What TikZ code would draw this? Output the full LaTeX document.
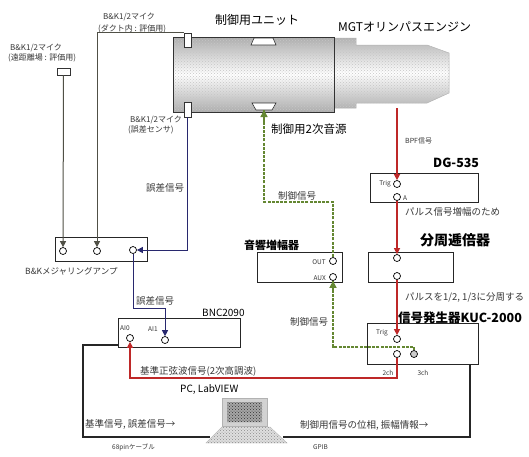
\documentclass[tikz,border=0pt]{standalone}
\usepackage{fontspec}
\setmainfont{Noto Sans CJK JP}
\usetikzlibrary{arrows.meta,patterns}
\definecolor{sigred}{RGB}{190,40,40}
\definecolor{ctlgreen}{RGB}{100,135,50}
\definecolor{errnavy}{RGB}{40,40,110}
\definecolor{micgray}{RGB}{80,80,70}
\definecolor{txtgray}{RGB}{55,55,55}
\begin{document}
\begin{tikzpicture}[x=1pt,y=-1pt,
  port/.style={circle,draw=black,fill=white,line width=0.7pt,inner sep=0pt,minimum size=7pt},
  devbox/.style={draw=black!85,line width=0.8pt,fill=white},
  small/.style={font=\fontsize{9.5}{10}\selectfont,text=txtgray,inner sep=0pt},
  miclabel/.style={font=\fontsize{8}{9}\selectfont,text=txtgray,inner sep=0pt},
  tiny/.style={font=\fontsize{6.5}{7}\selectfont,text=txtgray,inner sep=0pt},
  title/.style={font=\fontsize{12.5}{13}\selectfont\bfseries,inner sep=0pt},
  label/.style={font=\fontsize{12}{13}\selectfont,inner sep=0pt},
  tip/.style={-{Triangle[length=6pt,width=6pt]}},
  redsig/.style={draw=sigred,line width=1.2pt,tip},
  greensig/.style={draw=ctlgreen,line width=1.4pt,dash pattern=on 3pt off 1.2pt},
  greentip/.style={draw=ctlgreen,line width=1.4pt,-{Triangle[length=7pt,width=7pt]}},
  micline/.style={draw=micgray,line width=1pt},
  cable/.style={draw=black!85,line width=2.8pt}
]
\useasboundingbox (0,0) rectangle (529,456);
\fill[white] (0,0) rectangle (529,456);

% ---------- engine and control unit ----------
\shade[top color=gray!60,bottom color=gray!60,middle color=white,draw=gray!60,line width=0.5pt]
  (334,38) -- (356,38) -- (356,45) -- (427,45) -- (449,53) -- (449,93) -- (427,103)
  -- (356,103) -- (356,108) -- (334,108) -- cycle;
\fill[pattern=crosshatch dots,pattern color=gray!45]
  (334,38) -- (356,38) -- (356,45) -- (427,45) -- (449,53) -- (449,93) -- (427,103)
  -- (356,103) -- (356,108) -- (334,108) -- cycle;
\shade[top color=gray!65,bottom color=gray!65,middle color=white]
  (173,37) rectangle (334,112);
\fill[pattern=crosshatch dots,pattern color=gray!45] (173,37) rectangle (334,112);
\draw[draw=black!80,line width=0.8pt] (173,37) rectangle (334,112);
% secondary sources
\draw[fill=white,draw=black!80,line width=0.6pt] (254,38) -- (273,38) -- (276,45) -- (251,45) -- cycle;
\draw[fill=white,draw=black!80,line width=0.6pt] (252,103) -- (276,103) -- (272,110) -- (256,110) -- cycle;
\coordinate (spk) at (264,110);
\coordinate (bpf) at (397,108);

% microphones
\node[draw=black!80,fill=white,line width=0.6pt,minimum width=7pt,minimum height=14pt,inner sep=0pt] (micD) at (187.5,40) {};
\node[draw=black!80,fill=white,line width=0.6pt,minimum width=7pt,minimum height=15pt,inner sep=0pt] (micE) at (187.5,109.5) {};
\node[draw=black!80,fill=white,line width=0.6pt,minimum width=13pt,minimum height=7pt,inner sep=0pt] (micF) at (63.5,71.5) {};

% ---------- instrument boxes ----------
\node[devbox,minimum width=92pt,minimum height=24pt,inner sep=0pt] (amp) at (101,249) {};
\node[port] (ampA) at (63,251) {};
\node[port] (ampB) at (97,251) {};
\node[port] (ampC) at (133,250) {};

\node[devbox,minimum width=122pt,minimum height=29pt,inner sep=0pt] (bnc) at (179,332.5) {};
\node[port] (ai0) at (130,338) {};
\node[port] (ai1) at (165,340) {};

\node[devbox,minimum width=85pt,minimum height=30pt,inner sep=0pt] (aamp) at (299.5,267) {};
\node[port] (out) at (333,261) {};
\node[port] (aux) at (333,277) {};

\node[devbox,minimum width=108pt,minimum height=29pt,inner sep=0pt] (dg) at (424,187.5) {};
\node[port] (dgT) at (397,184) {};
\node[port] (dgA) at (397,197) {};

\node[devbox,minimum width=85pt,minimum height=30pt,inner sep=0pt] (fd) at (410.5,267) {};
\node[port] (fdIn) at (397,258) {};
\node[port] (fdOut) at (397,276) {};

\node[devbox,minimum width=111pt,minimum height=41pt,inner sep=0pt] (kuc) at (422.5,343.5) {};
\node[port] (kT) at (397,339) {};
\node[port] (k2) at (397,354) {};
\node[port,fill=gray!40] (k3) at (414,354) {};

% ---------- PC ----------
\coordinate (pcL) at (210,437);
\coordinate (pcR) at (283,437);
\draw[fill=gray!35,draw=gray!60] (222,398) rectangle (267,426);
\fill[gray!70] (227,402) rectangle (262,422);
\fill[pattern=crosshatch dots,pattern color=black!80] (227,402) rectangle (262,422);
\draw[fill=gray!25,draw=gray!55] (222,427) -- (270,427) -- (287,443) -- (206,443) -- cycle;
\fill[pattern=crosshatch dots,pattern color=gray!90] (222,427) -- (270,427) -- (287,443) -- (206,443) -- cycle;

% ---------- connectors ----------
\draw[micline,tip] (micF.south) -- (ampA.north);
\draw[micline,tip] (micD.north west) -| (ampB.north);
\draw[draw=errnavy,line width=1pt,tip] (micE.south) |- (ampC.east);
\coordinate (e1) at (133,308);
\draw[draw=errnavy,line width=1pt,tip] (ampC.south) -- (e1) -| (ai1.north);

\draw[redsig] (bpf) -- (dgT.north);
\draw[redsig] (dgA.south) -- (fdIn.north);
\draw[redsig] (fdOut.south) -- (kT.north);
\coordinate (r1) at (397,378);
\draw[redsig] (k2.south) -- (r1) -| (ai0.south);

\coordinate (g1) at (414,347);
\draw[greensig] (k3.north) -- (g1) -| (aux.south);
\draw[greentip] (aux.south) ++(0,12) -- (aux.south);
\coordinate (g2) at (333,202);
\draw[greensig] (out.north) -- (g2) -| (spk);
\draw[greentip] (spk) ++(0,12) -- (spk);

\coordinate (bncL) at (118,345);
\coordinate (b2) at (83,437);
\draw[cable] (bncL) -| (b2) -- (pcL);
\coordinate (kucB) at (470,364);
\draw[cable] (kucB) |- (pcR);

% ---------- texts ----------
\node[miclabel,anchor=west] at (103,17) {B\&K1/2マイク};
\node[miclabel,anchor=west] at (98,29) {(ダクト内 : 評価用)};
\node[miclabel,anchor=west] at (10,48) {B\&K1/2マイク};
\node[miclabel,anchor=west] at (8,58) {(遠距離場 : 評価用)};
\node[miclabel,anchor=west] at (130,120) {B\&K1/2マイク};
\node[miclabel,anchor=west] at (128,130) {(誤差センサ)};
\node[label] at (257,20) {制御用ユニット};
\node[label,anchor=west] at (338,27) {MGTオリンパスエンジン};
\node[font=\fontsize{11.5}{12}\selectfont,inner sep=0pt,anchor=west] at (271,129) {制御用2次音源};
\node[font=\fontsize{7}{8}\selectfont,text=txtgray,inner sep=0pt,anchor=west] at (405,141) {BPF信号};
\node[small,anchor=west] at (146,188) {誤差信号};
\node[title,anchor=west] at (433,163) {DG-535};
\node[tiny,anchor=east] at (391,184) {Trig};
\node[tiny,anchor=west] at (403,198) {A};
\node[small,anchor=west] at (405,212) {パルス信号増幅のため};
\node[small,anchor=west] at (278,196) {制御信号};
\node[font=\fontsize{11}{12}\selectfont\bfseries,inner sep=0pt,anchor=west] at (244,245) {音響増幅器};
\node[font=\fontsize{14}{15}\selectfont\bfseries,inner sep=0pt,anchor=west] at (420,240) {分周逓倍器};
\node[tiny,anchor=east] at (326,262) {OUT};
\node[tiny,anchor=east] at (326,278) {AUX};
\node[font=\fontsize{8.5}{9}\selectfont,text=txtgray,inner sep=0pt,anchor=west] at (25,271) {B\&Kメジャリングアンプ};
\node[small,anchor=west] at (405,297) {パルスを1/2, 1/3に分周する};
\node[small,anchor=west] at (136,301) {誤差信号};
\node[font=\fontsize{10}{11}\selectfont,inner sep=0pt,anchor=west] at (202,313) {BNC2090};
\node[small,anchor=west] at (290,322) {制御信号};
\node[title,anchor=west] at (398,318) {信号発生器KUC-2000};
\node[tiny,anchor=west] at (120,328) {AI0};
\node[tiny,anchor=west] at (148,329) {AI1};
\node[tiny,anchor=west] at (376,333) {Trig};
\node[small,anchor=west] at (140,371) {基準正弦波信号(2次高調波)};
\node[tiny] at (388,373) {2ch};
\node[tiny] at (423,373) {3ch};
\node[font=\fontsize{10}{11}\selectfont,inner sep=0pt,anchor=west] at (180,389) {PC, LabVIEW};
\node[small,anchor=west] at (85,424) {基準信号, 誤差信号→};
\node[tiny,anchor=west] at (112,447) {68pinケーブル};
\node[small,anchor=west] at (300,425) {制御用信号の位相, 振幅情報→};
\node[tiny,anchor=west] at (313,447) {GPIB};
\end{tikzpicture}
\end{document}
